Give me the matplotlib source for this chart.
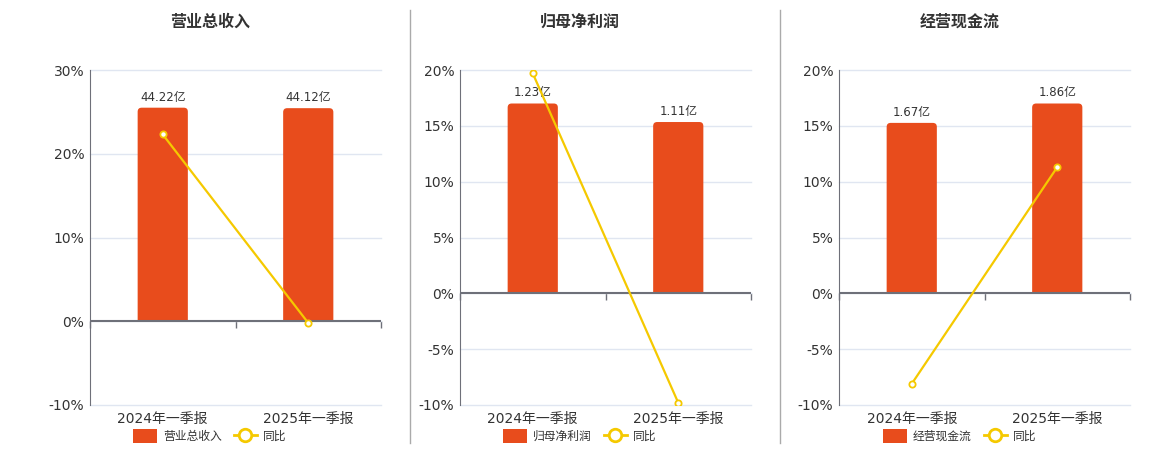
import matplotlib
matplotlib.use("Agg")
import matplotlib.pyplot as plt
from matplotlib.lines import Line2D
from matplotlib.patches import FancyBboxPatch, Rectangle

plt.rcParams['font.family'] = ['DejaVu Sans', 'Noto Sans CJK SC']

# data
periods = ['2024年一季报', '2025年一季报']
titles = ['营业总收入', '归母净利润', '经营现金流']
bar_values = [[44.22, 44.12], [1.23, 1.11], [1.67, 1.86]]   # 亿
yoy_values = [[22.3, -0.2], [19.7, -9.8], [-8.1, 11.3]]     # %
y_limits = [(-10, 30), (-10, 20), (-10, 20)]
y_steps = [10, 5, 5]

BAR = '#E84C1C'
LINE = '#F5C900'
TXT = '#333333'
AXC = '#6E7079'
GRID = '#E0E6F1'

W, H = 1160, 450
fig = plt.figure(figsize=(W / 100, H / 100), dpi=100)

ax_left = [90, 460, 839]
ax_w = 291
ax_top, ax_bot = 70, 405
title_cx = [210, 580, 960]
bar_w = 0.345
radius_px = 4

for i in range(3):
    x0 = ax_left[i]
    ax = fig.add_axes([x0 / W, 1 - ax_bot / H, ax_w / W, (ax_bot - ax_top) / H])
    lo, hi = y_limits[i]
    ax.set_ylim(lo, hi)
    ax.set_xlim(-0.5, 1.5)
    ticks = list(range(lo, hi + 1, y_steps[i]))
    ax.set_yticks(ticks)
    ax.set_yticklabels([f'{t}%' for t in ticks])
    ax.set_xticks([0, 1])
    ax.set_xticklabels(periods)
    ax.tick_params(axis='x', length=0, pad=5, labelsize=10, labelcolor=TXT)
    ax.tick_params(axis='y', length=0, pad=4, labelsize=10, labelcolor=TXT)
    ax.grid(axis='y', color=GRID, lw=1)
    for gl in ax.get_ygridlines():
        gl.set_clip_on(False)
    ax.set_axisbelow(True)
    for s in ['top', 'right', 'bottom']:
        ax.spines[s].set_visible(False)
    ax.spines['left'].set_color(AXC)

    # category boundary ticks hanging from the zero line
    zero_frac = (0 - lo) / (hi - lo)
    sec = ax.secondary_xaxis(zero_frac)
    sec.set_xticks([-0.5, 0.5, 1.5])
    sec.set_xticklabels([])
    sec.tick_params(length=5, width=1, color=AXC, direction='out')
    sec.spines['bottom'].set_visible(False)

    # bars on their own scale, zero aligned; redrawn with rounded tops
    axb = ax.twinx()
    top = max(bar_values[i]) / 0.85
    bottom = top * lo / hi
    axb.set_ylim(bottom, top)
    axb.set_xlim(-0.5, 1.5)
    xdpp = 2 / ax_w
    ydpp = (top - bottom) / (ax_bot - ax_top)
    ry = radius_px * ydpp
    bars = axb.bar([0, 1], bar_values[i], width=bar_w, color=BAR, zorder=2)
    for b, v in zip(bars, bar_values[i]):
        bx, bw, bh = b.get_x(), b.get_width(), b.get_height()
        b.set_visible(False)
        rb = FancyBboxPatch(
            (bx, -2 * ry), bw, bh + 2 * ry,
            boxstyle=f'round,pad=0,rounding_size={radius_px * xdpp}',
            mutation_aspect=ydpp / xdpp, fc=BAR, ec='none', zorder=2)
        axb.add_patch(rb)
        rb.set_clip_path(Rectangle((bx - 1, 0), bw + 2, bh + 1,
                                   transform=axb.transData))
        axb.annotate(f'{v:.2f}亿', (bx + bw / 2, v),
                     xytext=(0, 3), textcoords='offset points',
                     ha='center', va='bottom', fontsize=8.5, color=TXT)
    axb.axis('off')

    # zero line and yoy line on top
    axl = ax.twinx()
    axl.set_ylim(lo, hi)
    axl.set_xlim(-0.5, 1.5)
    axl.axhline(0, color=AXC, lw=1.5, zorder=1)
    axl.plot([0, 1], yoy_values[i], color=LINE, lw=1.6, marker='o', ms=4.5,
             mfc='white', mec=LINE, mew=1.3, zorder=3)
    axl.axis('off')

    fig.text(title_cx[i] / W, 1 - 22 / H, titles[i], ha='center', va='center',
             fontsize=11.5, fontweight='bold', color=TXT)

    handles = [FancyBboxPatch((0, 0), 1, 1, boxstyle='round,pad=0,rounding_size=0.2',
                              fc=BAR, ec='none'),
               Line2D([], [], color=LINE, lw=2, marker='o', ms=9,
                      mfc='white', mec=LINE, mew=2)]
    fig.legend(handles, [titles[i], '同比'], loc='center',
               bbox_to_anchor=(title_cx[i] / W, 1 - 436 / H), ncol=2,
               frameon=False, fontsize=8.5, handlelength=2.0, handleheight=1.4,
               columnspacing=1.0, handletextpad=0.5, labelcolor=TXT)

# panel dividers
for xd in [410, 780]:
    fig.add_artist(Line2D([xd / W, xd / W], [1 - 10 / H, 1 - 443 / H],
                          color='#AAAAAA', lw=1))

fig.savefig('out.png', dpi=100)
